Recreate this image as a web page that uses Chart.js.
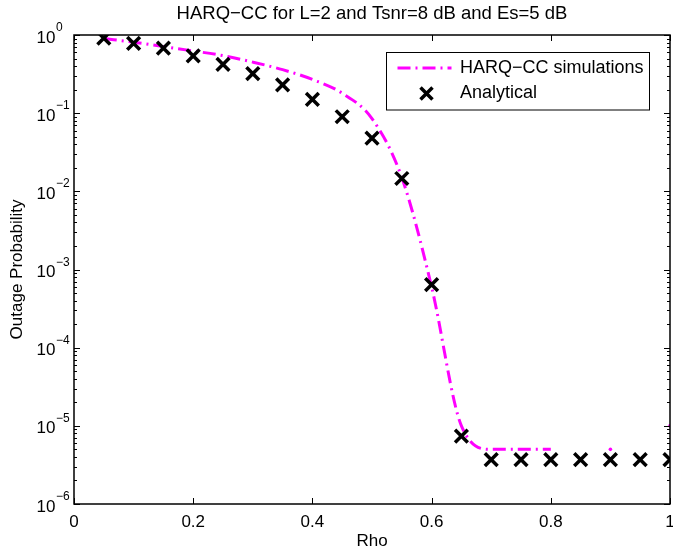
<!DOCTYPE html>
<html>
<head>
<meta charset="utf-8">
<title>HARQ-CC outage probability</title>
<script src="https://cdn.jsdelivr.net/npm/chart.js@4.4.1/dist/chart.umd.min.js"></script>
<style>
  body { margin: 0; background: #fff; }
  #wrap { width: 673px; height: 550px; position: relative; }
</style>
</head>
<body>
<div id="wrap"><canvas id="chart"></canvas></div>
<script>
// rho values shared by both curves
const rho = [0.05, 0.1, 0.15, 0.2, 0.25, 0.3, 0.35, 0.4, 0.45, 0.5,
             0.55, 0.6, 0.65, 0.7, 0.75, 0.8, 0.85, 0.9, 0.95, 1.0];

// simulated outage (null = no outage event seen, nothing plotted)
const simOutage = [0.9, 0.81, 0.71, 0.625, 0.545, 0.45, 0.36, 0.27, 0.18, 0.085,
                   0.015, 6e-4, 1e-5, 5e-6, 5e-6, 5e-6, null, 5e-6, null, 1e-5];

// closed form outage
const analyticalOutage = [0.91, 0.78, 0.68, 0.54, 0.42, 0.32, 0.23, 0.15, 0.09, 0.048,
                          0.0146, 6.4e-4, 7.4e-6, 3.7e-6, 3.7e-6, 3.7e-6, 3.7e-6, 3.7e-6, 3.7e-6, 3.7e-6];

const xTicks = [0, 0.2, 0.4, 0.6, 0.8, 1];
const yTicks = [1, 1e-1, 1e-2, 1e-3, 1e-4, 1e-5, 1e-6];

const titleText = 'HARQ\u2212CC for L=2 and Tsnr=8 dB and Es=5 dB';
const simLabel = 'HARQ\u2212CC simulations';
const analyticalLabel = 'Analytical';

const FONT = '"Liberation Sans", Arial, Helvetica, sans-serif';
const MAGENTA = '#ff00ff';
const DASH_DOT = [13, 5, 2, 5];

// matlab style frame: boxed axes, inward ticks, tick labels, title and legend
const matlabAxes = {
  id: 'matlabAxes',
  afterDraw(chart) {
    const { ctx, chartArea: a, scales: { x, y } } = chart;
    ctx.save();

    // ticks
    ctx.strokeStyle = '#000';
    ctx.lineWidth = 1;
    ctx.beginPath();
    xTicks.forEach((v) => {
      const px = Math.round(x.getPixelForValue(v)) + 0.5;
      ctx.moveTo(px, a.bottom); ctx.lineTo(px, a.bottom - 6);
      ctx.moveTo(px, a.top); ctx.lineTo(px, a.top + 6);
    });
    yTicks.forEach((v) => {
      const py = Math.round(y.getPixelForValue(v)) + 0.5;
      ctx.moveTo(a.left, py); ctx.lineTo(a.left + 6, py);
      ctx.moveTo(a.right, py); ctx.lineTo(a.right - 6, py);
      if (v < 1) {
        for (let m = 2; m <= 9; m++) {
          const pm = Math.round(y.getPixelForValue(v * m)) + 0.5;
          ctx.moveTo(a.left, pm); ctx.lineTo(a.left + 3, pm);
          ctx.moveTo(a.right, pm); ctx.lineTo(a.right - 3, pm);
        }
      }
    });
    ctx.stroke();

    // box
    ctx.lineWidth = 1.5;
    ctx.strokeRect(a.left, a.top, a.right - a.left, a.bottom - a.top);

    ctx.fillStyle = '#000';

    // x tick labels
    ctx.font = `17px ${FONT}`;
    ctx.textAlign = 'center';
    ctx.textBaseline = 'middle';
    xTicks.forEach((v) => {
      ctx.fillText(String(v), x.getPixelForValue(v), a.bottom + 18);
    });

    // y tick labels as 10 with superscript exponent
    ctx.textAlign = 'left';
    ctx.textBaseline = 'alphabetic';
    yTicks.forEach((v) => {
      const py = y.getPixelForValue(v);
      const exp = String(Math.round(Math.log10(v))).replace('-', '\u2212');
      ctx.font = `17px ${FONT}`;
      ctx.fillText('10', 36.5, py + 7.5);
      const w = ctx.measureText('10').width;
      ctx.font = `12px ${FONT}`;
      ctx.fillText(exp, 36.5 + w + 0.5, py - 4);
    });

    // title centred over the axes
    ctx.font = `18.5px ${FONT}`;
    ctx.textAlign = 'center';
    ctx.textBaseline = 'middle';
    ctx.fillText(titleText, (a.left + a.right) / 2, 14);

    // legend
    const lx = a.right - 283.5;
    const ly = a.top + 17.5;
    ctx.fillStyle = '#fff';
    ctx.fillRect(lx, ly, 263, 57.5);
    ctx.lineWidth = 1;
    ctx.strokeStyle = '#000';
    ctx.strokeRect(lx, ly, 263, 57.5);

    ctx.strokeStyle = MAGENTA;
    ctx.lineWidth = 3;
    ctx.setLineDash(DASH_DOT);
    ctx.beginPath();
    ctx.moveTo(lx + 11, ly + 15.5);
    ctx.lineTo(lx + 65, ly + 15.5);
    ctx.stroke();
    ctx.setLineDash([]);

    ctx.strokeStyle = '#000';
    ctx.lineWidth = 3.5;
    ctx.beginPath();
    const cx = lx + 40, cy = ly + 41, r = 6;
    ctx.moveTo(cx - r, cy - r); ctx.lineTo(cx + r, cy + r);
    ctx.moveTo(cx - r, cy + r); ctx.lineTo(cx + r, cy - r);
    ctx.stroke();

    ctx.fillStyle = '#000';
    ctx.font = `18px ${FONT}`;
    ctx.textAlign = 'left';
    ctx.fillText(simLabel, lx + 73.5, ly + 15.5);
    ctx.fillText(analyticalLabel, lx + 73.5, ly + 41);

    ctx.restore();
  }
};

function isolated(data, i) {
  return data[i] != null && data[i - 1] == null && data[i + 1] == null;
}

new Chart(document.getElementById('chart'), {
  type: 'line',
  data: {
    datasets: [
      {
        label: simLabel,
        data: rho.map((r, i) => ({ x: r, y: simOutage[i] })),
        borderColor: MAGENTA,
        backgroundColor: MAGENTA,
        borderWidth: 3,
        borderDash: DASH_DOT,
        cubicInterpolationMode: 'monotone',
        spanGaps: false,
        fill: false,
        pointRadius: (c) => (isolated(simOutage, c.dataIndex) ? 1.8 : 0),
        pointBorderWidth: 0,
        pointBackgroundColor: MAGENTA,
        order: 1,
      },
      {
        label: analyticalLabel,
        data: rho.map((r, i) => ({ x: r, y: analyticalOutage[i] })),
        showLine: false,
        pointStyle: 'crossRot',
        pointRadius: 9,
        pointBorderWidth: 3.5,
        pointBorderColor: '#000',
        borderColor: '#000',
        order: 0,
      },
    ],
  },
  options: {
    responsive: true,
    maintainAspectRatio: false,
    animation: false,
    events: [],
    layout: { autoPadding: false, padding: { left: 0, right: 3, top: 35, bottom: 0 } },
    plugins: {
      legend: { display: false },
      tooltip: { enabled: false },
      title: { display: false },
    },
    scales: {
      x: {
        type: 'linear',
        min: 0,
        max: 1,
        grid: { display: false, drawTicks: false },
        border: { display: false },
        ticks: { display: false },
        afterFit: (s) => { s.height = 46; },
        title: {
          display: true,
          text: 'Rho',
          color: '#000',
          font: { size: 17, family: FONT, lineHeight: 1 },
          padding: 0,
        },
      },
      y: {
        type: 'logarithmic',
        min: 1e-6,
        max: 1,
        grid: { display: false, drawTicks: false },
        border: { display: false },
        ticks: { display: false },
        afterFit: (s) => { s.width = 74; },
        title: {
          display: true,
          text: 'Outage Probability',
          color: '#000',
          font: { size: 17, family: FONT, lineHeight: 1 },
          padding: { top: 9, bottom: 0 },
        },
      },
    },
  },
  plugins: [matlabAxes],
});
</script>
</body>
</html>
